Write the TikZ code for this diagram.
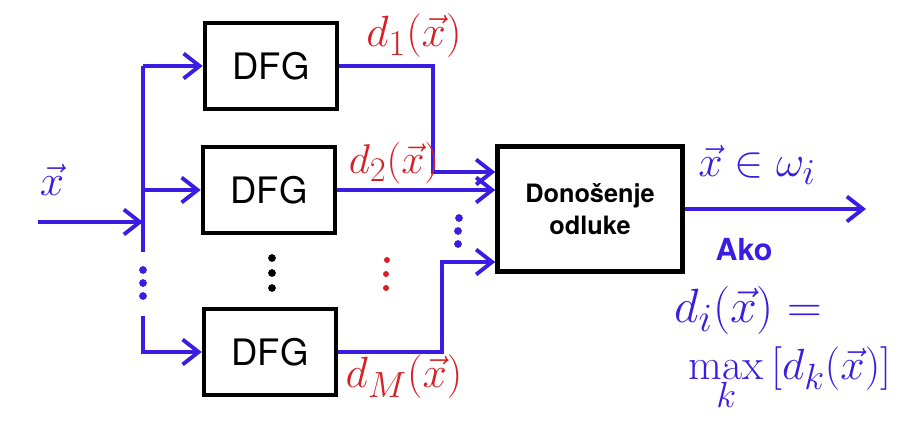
\documentclass[tikz,border=0pt]{standalone}
\usepackage{fontspec}
\setsansfont{TeX Gyre Heros}
\usetikzlibrary{arrows.meta}
\definecolor{penblue}{RGB}{58,28,226}
\definecolor{penred}{RGB}{214,32,38}
\begin{document}
\begin{tikzpicture}[x=0.02cm,y=-0.02cm,
	dfgbox/.style={rectangle, draw, line width=2.6pt, minimum width=2.64cm, minimum height=1.72cm, font=\huge\sffamily},
	odlbox/.style={rectangle, draw, line width=2.6pt, minimum width=3.7cm, minimum height=2.5cm, align=center, font=\Large\sffamily\bfseries},
	ln/.style={penblue, line width=2.2pt},
	arr/.style={ln, ->, >={Straight Barb[length=3.2mm,width=5mm,line width=2.2pt]}},
	lbl/.style={text=penred, font=\Huge},
	res/.style={text=penblue, font=\Huge},
	pt/.style={radius=2.2pt}]
		\useasboundingbox (0,0) rectangle (916,443);
		% classifier blocks
		\node[dfgbox] (dfg1) at (271,66) {DFG};
		\node[dfgbox] (dfg2) at (269,190) {DFG};
		\node[dfgbox] (dfgM) at (270,352) {DFG};
		\node[odlbox] (odl) at (590,209) {Donošenje\\odluke};

		% input and distribution bus
		\coordinate (xin) at (38,222);
		\coordinate (bus) at (143,222);
		\coordinate (btop) at (143,66);
		\coordinate (bmid) at (143,252);
		\coordinate (blow) at (143,316);
		\node[res] (xvec) at (52,180) {$\vec{x}$};
		\draw[arr] (xin) -- (bus);
		\draw[ln] (btop) -- (bmid);
		\draw[arr] (btop) -- (dfg1.west);
		\draw[arr] (bus |- dfg2.west) -- (dfg2.west);
		\draw[arr] (blow) |- (dfgM.west);
		\fill[penblue] (143,270) circle[pt] (143,283) circle[pt] (143,296) circle[pt];
		\fill (272,258) circle[pt] (272,273) circle[pt] (272,288) circle[pt];

		% discriminant outputs
		\coordinate (k1) at (433,172);
		\coordinate (kM) at (442,262);
		\draw[arr] (dfg1.east) -| (k1) -- (k1 -| odl.west);
		\draw[arr] (dfg2.east) -- (dfg2.east -| odl.west);
		\draw[arr] (dfgM.east) -| (kM) -- (kM -| odl.west);
		\fill[penblue] (459,218) circle[pt] (458,231) circle[pt] (458,244) circle[pt];
		\fill[penred] (387,260) circle[radius=1.7pt] (386,274) circle[radius=1.7pt] (386,288) circle[radius=1.7pt];
		\node[lbl] (d1) at (414,36) {$d_1(\vec{x})$};
		\node[lbl, scale=0.95] (d2) at (394,163) {$d_2(\vec{x})$};
		\node[lbl] (dM) at (404,377) {$d_M(\vec{x})$};

		% decision
		\coordinate (xout) at (866,209);
		\draw[arr] (odl.east) -- (xout);
		\node[res] (cls) at (757,165) {$\vec{x}\in\omega_i$};
		\node[text=penblue, font=\LARGE\sffamily\bfseries] (ako) at (744,250) {Ako};
		\node[res, scale=1.1] (di) at (748,310) {$d_i(\vec{x}) =$};
		\node[res] (mx) at (790,378) {$\max\limits_{\lower4pt\hbox{$\scriptstyle k$}}\,[d_k(\vec{x})]$};
\end{tikzpicture}
\end{document}
